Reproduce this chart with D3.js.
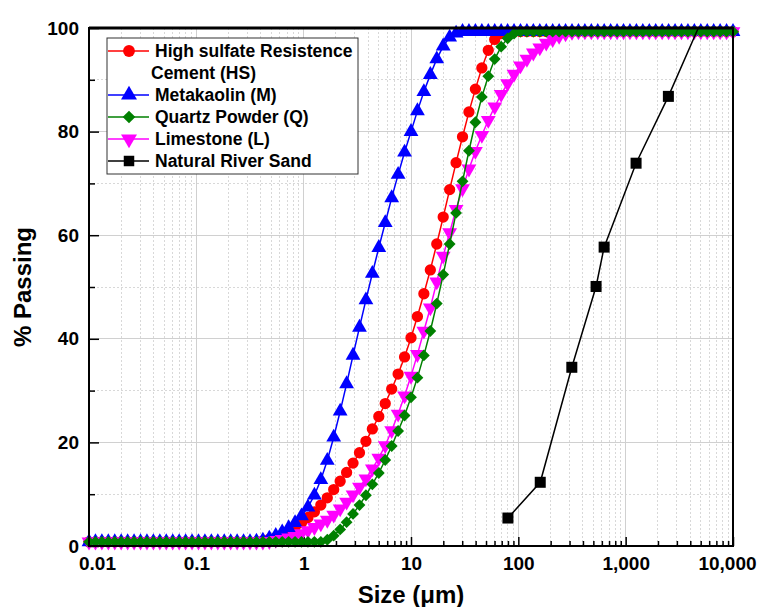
<!DOCTYPE html>
<meta charset="utf-8">
<style>
body { margin: 0; background: #fff; font-family: Arial, "Liberation Sans", sans-serif; }
.grid-major line { stroke: #d0d0d0; stroke-width: 1; shape-rendering: crispEdges; }
.grid-minor line { stroke: #d8d8d8; stroke-width: 1; stroke-dasharray: 2,2; shape-rendering: crispEdges; }
.axis path { display: none; }
.axis line { stroke: #000; stroke-width: 1.5; }
.axis text { font-family: Arial, "Liberation Sans", sans-serif; font-weight: bold; font-size: 19px; fill: #000; }
.legend text { font-family: Arial, "Liberation Sans", sans-serif; font-weight: bold; font-size: 17px; fill: #000; }
</style>
<body>
<svg width="758" height="607"></svg>
<script src="https://d3js.org/d3.v7.min.js"></script>
<script>

// particle size channels (um)
var sizes = [
    0.01, 0.01148, 0.01318, 0.01514, 0.01738, 0.01995, 0.02291, 0.0263, 0.0302, 0.03467,
    0.03981, 0.04571, 0.05248, 0.06026, 0.06918, 0.07943, 0.0912, 0.1047, 0.1202, 0.138,
    0.1585, 0.182, 0.2089, 0.2399, 0.2754, 0.3162, 0.3631, 0.4169, 0.4786, 0.5495,
    0.631, 0.7244, 0.8318, 0.955, 1.096, 1.259, 1.445, 1.66, 1.905, 2.188,
    2.512, 2.884, 3.311, 3.802, 4.365, 5.012, 5.754, 6.607, 7.586, 8.71,
    10, 11.48, 13.18, 15.14, 17.38, 19.95, 22.91, 26.3, 30.2, 34.67,
    39.81, 45.71, 52.48, 60.26, 69.18, 79.43, 91.2, 104.7, 120.2, 138,
    158.5, 182, 208.9, 239.9, 275.4, 316.2, 363.1, 416.9, 478.6, 549.5,
    631, 724.4, 831.8, 955, 1096, 1259, 1445, 1660, 1905, 2188,
    2512, 2884, 3311, 3802, 4365, 5012, 5754, 6607, 7586, 8710,
    10000
];

var hsCement = [
    0.8, 0.8, 0.8, 0.8, 0.8, 0.8, 0.8, 0.8, 0.8, 0.8,
    0.8, 0.8, 0.8, 0.8, 0.8, 0.8, 0.8, 0.8, 0.8, 0.8,
    0.8, 0.8, 0.8, 0.8, 0.8, 0.8, 0.8, 1.0, 1.3, 1.6,
    2.1, 2.8, 3.6, 4.5, 5.5, 6.6, 7.9, 9.3, 10.9, 12.5,
    14.2, 16.0, 18.0, 20.2, 22.6, 25.0, 27.5, 30.3, 33.2, 36.5,
    40.2, 44.3, 48.7, 53.3, 58.3, 63.5, 68.8, 74.0, 79.0, 83.8,
    88.2, 92.3, 95.7, 97.8, 98.9, 99.2, 99.3, 99.3, 99.3, 99.3,
    99.3, 99.3, 99.3, 99.3, 99.3, 99.3, 99.3, 99.3, 99.3, 99.3,
    99.3, 99.3, 99.3, 99.3, 99.3, 99.3, 99.3, 99.3, 99.3, 99.3,
    99.3, 99.3, 99.3, 99.3, 99.3, 99.3, 99.3, 99.3, 99.3, 99.3,
    99.3
];

var metakaolin = [
    0.8, 0.8, 0.8, 0.8, 0.8, 0.8, 0.8, 0.8, 0.8, 0.8,
    0.8, 0.8, 0.8, 0.8, 0.8, 0.8, 0.8, 0.8, 0.8, 0.8,
    0.8, 0.8, 0.8, 0.8, 0.8, 0.8, 0.9, 1.1, 1.5, 2.0,
    2.7, 3.5, 4.5, 5.8, 7.5, 9.8, 12.8, 16.5, 21.0, 26.0,
    31.3, 36.8, 42.2, 47.5, 52.6, 57.6, 62.4, 67.2, 71.7, 76.0,
    80.0, 84.0, 87.7, 91.0, 94.0, 96.5, 98.2, 99.0, 99.3, 99.3,
    99.3, 99.3, 99.3, 99.3, 99.3, 99.3, 99.3, 99.3, 99.3, 99.3,
    99.3, 99.3, 99.3, 99.3, 99.3, 99.3, 99.3, 99.3, 99.3, 99.3,
    99.3, 99.3, 99.3, 99.3, 99.3, 99.3, 99.3, 99.3, 99.3, 99.3,
    99.3, 99.3, 99.3, 99.3, 99.3, 99.3, 99.3, 99.3, 99.3, 99.3,
    99.3
];

var quartzPowder = [
    0.8, 0.8, 0.8, 0.8, 0.8, 0.8, 0.8, 0.8, 0.8, 0.8,
    0.8, 0.8, 0.8, 0.8, 0.8, 0.8, 0.8, 0.8, 0.8, 0.8,
    0.8, 0.8, 0.8, 0.8, 0.8, 0.8, 0.8, 0.8, 0.8, 0.8,
    0.8, 0.8, 0.8, 0.8, 0.8, 0.8, 0.8, 1.2, 2.0, 3.2,
    4.6, 6.2, 7.9, 9.8, 11.9, 14.1, 16.6, 19.3, 22.2, 25.2,
    28.7, 32.5, 36.8, 41.5, 46.8, 52.4, 58.3, 64.3, 70.4, 76.3,
    81.8, 86.7, 90.7, 94.0, 96.4, 98.0, 98.9, 99.3, 99.3, 99.3,
    99.3, 99.3, 99.3, 99.3, 99.3, 99.3, 99.3, 99.3, 99.3, 99.3,
    99.3, 99.3, 99.3, 99.3, 99.3, 99.3, 99.3, 99.3, 99.3, 99.3,
    99.3, 99.3, 99.3, 99.3, 99.3, 99.3, 99.3, 99.3, 99.3, 99.3,
    99.3
];

var limestone = [
    0.8, 0.8, 0.8, 0.8, 0.8, 0.8, 0.8, 0.8, 0.8, 0.8,
    0.8, 0.8, 0.8, 0.8, 0.8, 0.8, 0.8, 0.8, 0.8, 0.8,
    0.8, 0.8, 0.8, 0.8, 0.8, 0.8, 0.8, 0.8, 0.9, 1.1,
    1.3, 1.6, 1.9, 2.4, 3.0, 3.6, 4.3, 5.0, 6.0, 7.2,
    8.5, 9.9, 11.4, 13.0, 14.9, 17.0, 19.4, 22.3, 25.5, 29.0,
    32.8, 37.0, 41.5, 46.0, 51.0, 56.0, 60.5, 65.0, 69.0, 72.8,
    76.2, 79.3, 82.2, 84.8, 87.2, 89.3, 91.1, 92.7, 94.0, 95.2,
    96.2, 97.1, 97.8, 98.4, 98.9, 99.2, 99.3, 99.3, 99.3, 99.3,
    99.3, 99.3, 99.3, 99.3, 99.3, 99.3, 99.3, 99.3, 99.3, 99.3,
    99.3, 99.3, 99.3, 99.3, 99.3, 99.3, 99.3, 99.3, 99.3, 99.3,
    99.3
];

// sieve analysis of the sand
var sandSizes = [80, 160, 315, 530, 630, 1250, 2500, 4750];
var sandPassing = [5.4, 12.3, 34.5, 50.1, 57.7, 73.9, 86.8, 100];

var xTicks = [0.01, 0.1, 1, 10, 100, 1000, 10000];
var xTickLabels = ["0.01", "0.1", "1", "10", "100", "1,000", "10,000"];
var yTicks = [0, 20, 40, 60, 80, 100];
var yMinorTicks = [10, 30, 50, 70, 90];

var svg = d3.select("svg"),
    margin = {top: 28, right: 25, bottom: 61, left: 89},
    width = +svg.attr("width") - margin.left - margin.right,
    height = +svg.attr("height") - margin.top - margin.bottom,
    g = svg.append("g").attr("transform", "translate(" + margin.left + "," + margin.top + ")");

var x = d3.scaleLog().domain([0.01, 10000]).range([0, width]);
var y = d3.scaleLinear().domain([0, 100]).range([height, 0]);

// minor x values 2..9 in each decade
var xMinor = [];
xTicks.slice(0, -1).forEach(function (d) {
    for (var m = 2; m <= 9; m++) xMinor.push(d * m);
});

// grid
var gMinor = g.append("g").attr("class", "grid-minor");
gMinor.selectAll("line.vx").data(xMinor).enter().append("line")
    .attr("x1", function (d) { return x(d); }).attr("x2", function (d) { return x(d); })
    .attr("y1", 0).attr("y2", height);
gMinor.selectAll("line.hy").data(yMinorTicks).enter().append("line")
    .attr("x1", 0).attr("x2", width)
    .attr("y1", function (d) { return y(d); }).attr("y2", function (d) { return y(d); });

var gMajor = g.append("g").attr("class", "grid-major");
gMajor.selectAll("line.vx").data(xTicks).enter().append("line")
    .attr("x1", function (d) { return x(d); }).attr("x2", function (d) { return x(d); })
    .attr("y1", 0).attr("y2", height);
gMajor.selectAll("line.hy").data(yTicks).enter().append("line")
    .attr("x1", 0).attr("x2", width)
    .attr("y1", function (d) { return y(d); }).attr("y2", function (d) { return y(d); });

// axes
var xAxisG = g.append("g")
    .attr("class", "axis")
    .attr("transform", "translate(0," + height + ")")
    .call(d3.axisBottom(x).tickValues(xTicks)
        .tickFormat(function (d, i) { return xTickLabels[i]; })
        .tickSizeInner(-9).tickSizeOuter(0).tickPadding(11));
// keep the end labels inside the picture
xAxisG.selectAll(".tick text")
    .attr("dx", function (d, i) { return i === 0 ? 8 : (i === xTicks.length - 1 ? -6 : 0); });

g.append("g")
    .attr("class", "axis")
    .attr("transform", "translate(0," + height + ")")
    .call(d3.axisBottom(x).tickValues(xMinor).tickFormat("").tickSizeInner(-5).tickSizeOuter(0));
g.append("g")
    .attr("class", "axis")
    .call(d3.axisLeft(y).tickValues(yTicks).tickSizeInner(-10).tickSizeOuter(0).tickPadding(10));
g.append("g")
    .attr("class", "axis")
    .call(d3.axisLeft(y).tickValues(yMinorTicks).tickFormat("").tickSizeInner(-6).tickSizeOuter(0));

// series
var series = [
    {name: "HS", values: hsCement, color: "#ff0000", symbol: d3.symbolCircle, size: 100, rot: 0},
    {name: "M", values: metakaolin, color: "#0000ff", symbol: d3.symbolTriangle, size: 95, rot: 0},
    {name: "L", values: limestone, color: "#ff00ff", symbol: d3.symbolTriangle, size: 95, rot: 180},
    {name: "Q", values: quartzPowder, color: "#008000", symbol: d3.symbolSquare, size: 70, rot: 45}
];

var line = d3.line()
    .x(function (d) { return x(d[0]); })
    .y(function (d) { return y(d[1]); });

series.forEach(function (s) {
    var pts = sizes.map(function (d, i) { return [d, s.values[i]]; });
    var sg = g.append("g");
    sg.append("path")
        .datum(pts)
        .attr("fill", "none")
        .attr("stroke", s.color)
        .attr("stroke-width", 1.5)
        .attr("d", line);
    sg.selectAll("path.mk")
        .data(pts)
        .enter().append("path")
        .attr("class", "mk")
        .attr("fill", s.color)
        .attr("d", d3.symbol().type(s.symbol).size(s.size))
        .attr("transform", function (d) {
            return "translate(" + x(d[0]) + "," + y(d[1]) + ") rotate(" + s.rot + ")";
        });
});

// sand
var sandPts = sandSizes.map(function (d, i) { return [d, sandPassing[i]]; });
g.append("path")
    .datum(sandPts)
    .attr("fill", "none")
    .attr("stroke", "#000")
    .attr("stroke-width", 1.5)
    .attr("d", line);
g.selectAll("rect.sand")
    .data(sandPts.filter(function (d) { return d[1] < 100; }))
    .enter().append("rect")
    .attr("class", "sand")
    .attr("x", function (d) { return x(d[0]) - 5.5; })
    .attr("y", function (d) { return y(d[1]) - 5.5; })
    .attr("width", 11).attr("height", 11)
    .attr("fill", "#000");

// frame
g.append("rect")
    .attr("width", width).attr("height", height)
    .attr("fill", "none").attr("stroke", "#000").attr("stroke-width", 2);
g.append("line").attr("x1", 0).attr("x2", width).attr("y1", 0).attr("y2", 0)
    .attr("stroke", "#000").attr("stroke-width", 3);

// legend
var legendRows = [
    {label: ["High sulfate Resistence", "Cement (HS)"], color: "#ff0000", symbol: d3.symbolCircle, size: 110, rot: 0},
    {label: ["Metakaolin (M)"], color: "#0000ff", symbol: d3.symbolTriangle, size: 110, rot: 0},
    {label: ["Quartz Powder (Q)"], color: "#008000", symbol: d3.symbolSquare, size: 80, rot: 45},
    {label: ["Limestone (L)"], color: "#ff00ff", symbol: d3.symbolTriangle, size: 110, rot: 180},
    {label: ["Natural River Sand"], color: "#000", symbol: d3.symbolSquare, size: 110, rot: 0}
];

var lg = g.append("g").attr("class", "legend").attr("transform", "translate(18,10)");
lg.append("rect")
    .attr("width", 251).attr("height", 136)
    .attr("fill", "#fff").attr("stroke", "#333").attr("stroke-width", 1);

var row = 0;
legendRows.forEach(function (r) {
    var cy = 13 + row * 22;
    lg.append("line").attr("x1", 1).attr("x2", 42).attr("y1", cy).attr("y2", cy)
        .attr("stroke", r.color).attr("stroke-width", 1.5);
    lg.append("path")
        .attr("d", d3.symbol().type(r.symbol).size(r.size))
        .attr("fill", r.color)
        .attr("transform", "translate(22," + cy + ") rotate(" + r.rot + ")");
    r.label.forEach(function (t, j) {
        lg.append("text")
            .attr("x", j === 0 ? 48 : 44)
            .attr("y", cy + j * 22)
            .attr("dy", "0.36em")
            .style("font-size", "17.5px")
            .text(t);
        if (j > 0) row++;
    });
    row++;
});

// axis titles
svg.append("text")
    .attr("transform", "translate(22," + (margin.top + height / 2) + ") rotate(-90)")
    .attr("text-anchor", "middle")
    .attr("dy", "0.36em")
    .attr("font-size", 24).attr("font-weight", "bold")
    .text("% Passing");
svg.append("text")
    .attr("x", margin.left + 322)
    .attr("y", 603)
    .attr("text-anchor", "middle")
    .attr("font-size", 24).attr("font-weight", "bold")
    .text("Size (\u03bcm)");

</script>
